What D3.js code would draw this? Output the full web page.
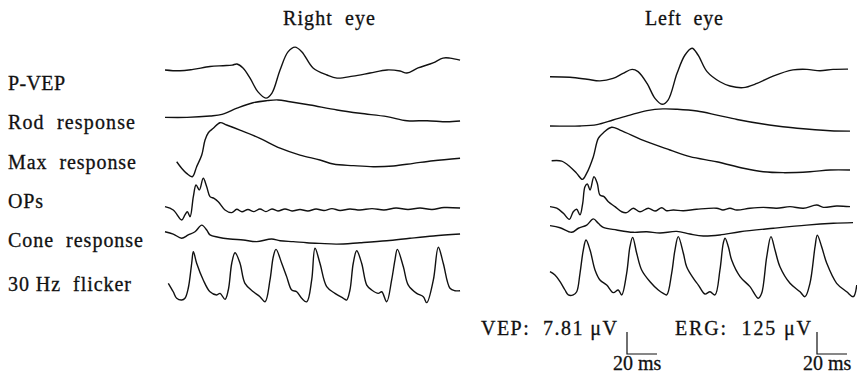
<!DOCTYPE html>
<html>
<head>
<meta charset="utf-8">
<script src="https://cdn.jsdelivr.net/npm/d3@7"></script>
<style>
  body { margin: 0; background: #fff; }
  text { font-family: "Liberation Serif", "Times New Roman", serif; fill: #111; stroke: #111; stroke-width: 0.3; white-space: pre; }
</style>
</head>
<body>
<div id="canvas"></div>
<script>
"use strict"

/* labels and titles */
let rowLabels = ["P-VEP", "Rod  response", "Max  response", "OPs", "Cone  response", "30 Hz  flicker"]
let eyeTitles = ["Right  eye", "Left  eye"]

/* traces: [time in ms, amplitude in µV].
   VEP in µV on the 7.81 µV bar, ERG rows on the 125 µV bar */
let rightVEP = [[0,1.8],[10,1.5],[18.7,2.0],[30,3.0],[38.7,3.3],[44.7,3.5],[48,3.9],[52,2.5],[56.7,-1.1],[62,-6.0],[67.3,-8.2],[71.3,-6.4],[76.7,1.8],[82,8.2],[86.7,9.9],[91.3,8.2],[98.7,2.5],[108,0],[114.7,-1.1],[125.3,-0.4],[136.7,0.7],[148,1.8],[156.7,1.4],[161.3,0.7],[168.7,2.5],[178.7,4.3],[185.3,6.0],[190,6.0],[196.7,5.3]]
let leftVEP = [[0,-0.6],[13.3,-0.8],[24.7,-1.5],[33.3,-2.1],[42,-1.2],[48.7,0.6],[54.7,2.0],[58.7,1.2],[64.7,-3.0],[70,-8.3],[74.7,-10.4],[78.7,-8.9],[84.7,0.6],[90,7.1],[94.7,9.5],[98.7,7.1],[104.7,1.2],[113.3,-2.4],[120,-3.9],[128.7,-4.5],[138,-3.0],[148.7,-0.4],[162,1.8],[171.3,2.0],[180,1.5],[188.7,2.0],[198.7,2.1]]

let rightRod = [[0,15],[14.7,15],[30,23],[38,32],[48,67],[58.7,98],[68,110],[75.3,114],[83.3,104],[96.7,85],[114.7,57],[130,38],[148,19],[161.3,-4],[174.7,-4],[188,-10],[196.7,-6]]
let leftRod = [[0,-34],[20,-34],[31.3,-26],[42,0],[53.3,28],[64.7,53],[75.3,63],[84.7,61],[98,51],[111.3,28],[124.7,3],[142,-23],[151.3,-34],[164.7,-47],[186.7,-61],[200,-63]]

let rightMax = [[7.8,-10],[11.1,-47],[14.4,-76],[18.2,-95],[21.1,-38],[24.5,28],[26.7,114],[28.9,155],[32.2,180],[36.7,212],[41.1,199],[50,170],[63.3,123],[76.7,67],[90,28],[103.3,0],[112.2,-23],[125.6,-32],[138.9,-38],[152.2,-34],[165.6,-19],[178.9,-4],[196.7,10]]
let leftMax = [[1.1,-4],[7.8,-6],[13.3,-38],[17.8,-76],[21.6,-110],[24.4,-76],[28.9,19],[32.2,123],[35.6,155],[41.1,186],[46.7,170],[64.4,104],[80,57],[93.3,19],[111.1,-10],[128.9,-47],[142.2,-67],[155.6,-72],[173.3,-67],[186.7,-57],[200,-57]]

let rightOPs = [[0,2],[5.5,-17],[11.1,-74],[13.3,-45],[14.9,-27],[16.7,-55],[18.9,59],[20.7,125],[22.9,97],[25.5,163],[27.8,115],[30,59],[32.7,49],[35.5,30],[40,-17],[44.5,-32],[47.8,-13],[51.3,-27],[55.3,-14],[59.3,-26],[63.3,-11],[67.3,-26],[71.3,-11],[75.3,-23],[80,-11],[84.7,-23],[90,-14],[95.3,-23],[100.7,-11],[106,-20],[111.3,-9],[116.7,-20],[123.3,-11],[130,-17],[138,-9],[146,-17],[154,-6],[162,-14],[170,-6],[178,-14],[186,-3],[196.7,-6]]
let leftOPs = [[0,2],[4.5,-7],[8.9,-36],[12.9,-70],[15.5,-27],[17.8,-13],[20,-45],[21.8,21],[23.3,115],[24.9,131],[26.7,97],[29.3,172],[31.5,135],[33.3,68],[36,59],[38.9,30],[43.3,2],[47.8,-27],[51.1,-32],[55.5,-7],[60,-27],[65.5,-7],[70,-23],[74.5,-4],[77.8,-21],[82.2,-17],[88.9,-21],[97.8,-13],[111.1,-7],[115.3,-17],[120,-7],[124.5,-17],[133.3,-7],[142.2,-2],[151.1,-7],[160,2],[168.9,-7],[177.8,11],[182.2,-2],[191.1,6],[200,2]]

let rightCone = [[0,7],[5.5,-6],[11.1,-30],[15.5,-11],[20,7],[24.5,45],[27.8,17],[30,-11],[35.5,-24],[43.3,-34],[52.2,-40],[61.1,-49],[71.1,-34],[76.7,-44],[85.5,-49],[94.5,-55],[103.3,-59],[114.5,-63],[130,-55],[147.8,-44],[163.3,-30],[178.9,-17],[196.7,-6]]
let leftCone = [[0,42],[6.7,30],[14.5,4],[18.9,27],[24.5,45],[28.9,80],[32.2,55],[35.5,32],[44.5,17],[55.5,4],[64.5,7],[73.3,0],[84.5,9],[93.3,-6],[102.2,-17],[113.3,-11],[126.7,7],[148.9,27],[171.1,45],[188.9,55],[202,59]]

let rightFlicker = [[2.2,38],[5.5,-10],[7.8,-47],[11.1,-57],[13.3,-47],[15.5,10],[17.8,152],[18.9,218],[21.1,152],[25.5,57],[30,-10],[34.5,-28],[36.7,-19],[40,-53],[42.2,0],[44.5,152],[46.7,212],[50,152],[53.3,38],[58.9,-10],[63.3,-38],[66.7,-67],[70,57],[72.2,189],[74,231],[77.8,152],[81.1,76],[84.5,0],[87.8,-10],[91.1,-47],[94.5,-67],[97.8,57],[100,237],[103.3,152],[107.8,19],[113.3,-19],[118.9,-47],[121.1,-57],[123.3,0],[125.5,152],[127.8,223],[131.1,152],[134.5,28],[137.8,0],[142.2,-19],[144.5,-10],[147.8,-67],[151.1,57],[153.3,170],[154.9,231],[158.9,132],[162.2,28],[167.8,-19],[172.2,-38],[174.5,-72],[178.9,57],[182.2,243],[185.5,152],[190,10],[193.3,-4],[196.7,-4]]
let leftFlicker = [[0,104],[3.3,85],[6.7,47],[10,0],[12.2,-28],[15.5,-28],[17.8,-10],[20,95],[22.2,227],[24,284],[26.7,227],[30,114],[33.3,57],[37.8,28],[42.2,-15],[45.5,0],[47.8,-28],[51.1,95],[53.3,246],[55.1,299],[57.8,209],[61.1,114],[66.7,47],[72.2,0],[75.5,-19],[77.8,-28],[81.1,95],[83.3,227],[85.5,303],[88.9,209],[91.1,132],[95.5,67],[98.9,28],[103.3,-23],[106.7,-10],[110,-28],[113.3,114],[115.5,265],[116.7,294],[118.9,246],[121.1,170],[126.7,76],[133.3,19],[138.9,-47],[141.1,-19],[144.5,189],[147.3,303],[150,227],[153.3,132],[160,38],[166.7,-10],[170,-38],[173.3,38],[176.7,246],[178.2,312],[181.1,246],[184.5,152],[191.1,38],[197.8,-10],[202.2,-38],[204.5,28]]

/* calibration bars */
let vepCal = { label: "VEP:  7.81 \u03bcV", uv: 7.81, ms: 20 }
let ergCal = { label: "ERG:  125 \u03bcV", uv: 125, ms: 20 }

/* ---- drawing ---- */
let drawing = d3.select("#canvas")
    .append("svg")
    .attr("width", 857)
    .attr("height", 385)

drawing.append("rect")
    .attr("width", 857)
    .attr("height", 385)
    .attr("fill", "#fff")
    .attr("stroke", "none")

/* time axis for each eye, 1.5 px per ms */
let xRight = d3.scaleLinear().domain([0, 200]).range([165, 465])
let xLeft = d3.scaleLinear().domain([0, 200]).range([550, 850])

/* amplitude: both calibration bars are 22 px tall */
let yVEP = d3.scaleLinear().domain([0, vepCal.uv]).range([0, -22])
let yERG = d3.scaleLinear().domain([0, ergCal.uv]).range([0, -22])

/* zero line of each row, and where its label sits */
let rowBase = [75, 120, 160, 207, 233, 290]
let labelBase = [90, 129, 169, 208, 247, 291]
let labelWidth = [57, 127, 128, 35, 135, 123]

let traces = [
    [rightVEP, leftVEP, yVEP],
    [rightRod, leftRod, yERG],
    [rightMax, leftMax, yERG],
    [rightOPs, leftOPs, yERG],
    [rightCone, leftCone, yERG],
    [rightFlicker, leftFlicker, yERG]
]

function drawTrace(data, xs, ys, base) {
    let line = d3.line()
        .x(d => xs(d[0]))
        .y(d => base + ys(d[1]))
        .curve(d3.curveCatmullRom.alpha(0.5))
    drawing.append("path")
        .attr("d", line(data))
        .attr("fill", "none")
        .attr("stroke", "#111")
        .attr("stroke-width", 1.4)
        .attr("stroke-linejoin", "round")
}

traces.forEach((t, i) => {
    drawTrace(t[0], xRight, t[2], rowBase[i])
    drawTrace(t[1], xLeft, t[2], rowBase[i])
})

/* row labels on the left */
drawing.selectAll(".rowlabel")
    .data(rowLabels)
    .enter()
    .append("text")
    .attr("class", "rowlabel")
    .attr("x", 8)
    .attr("y", (d, i) => labelBase[i])
    .attr("font-size", 20)
    .attr("textLength", (d, i) => labelWidth[i])
    .attr("lengthAdjust", "spacing")
    .text(d => d)

/* eye titles */
drawing.selectAll(".title")
    .data(eyeTitles)
    .enter()
    .append("text")
    .attr("class", "title")
    .attr("x", (d, i) => i == 0 ? 283 : 645)
    .attr("y", 25)
    .attr("font-size", 20)
    .attr("textLength", (d, i) => i == 0 ? 92 : 78)
    .attr("lengthAdjust", "spacing")
    .text(d => d)

/* calibration labels and bars */
function drawCal(cal, textX, barX, ys) {
    drawing.append("text")
        .attr("x", textX)
        .attr("y", 335)
        .attr("font-size", 20)
        .attr("textLength", 136)
        .attr("lengthAdjust", "spacing")
        .text(cal.label)
    let barY = 354
    let w = xLeft(cal.ms) - xLeft(0)
    let h = ys(cal.uv)
    drawing.append("path")
        .attr("d", "M" + barX + "," + (barY + h) + "V" + barY + "H" + (barX + w))
        .attr("fill", "none")
        .attr("stroke", "#111")
        .attr("stroke-width", 1.2)
    drawing.append("text")
        .attr("x", barX - 14)
        .attr("y", 370)
        .attr("font-size", 20)
        .text(cal.ms + " ms")
}

drawCal(vepCal, 481, 627, yVEP)
drawCal(ergCal, 675, 817, yERG)
</script>
</body>
</html>
